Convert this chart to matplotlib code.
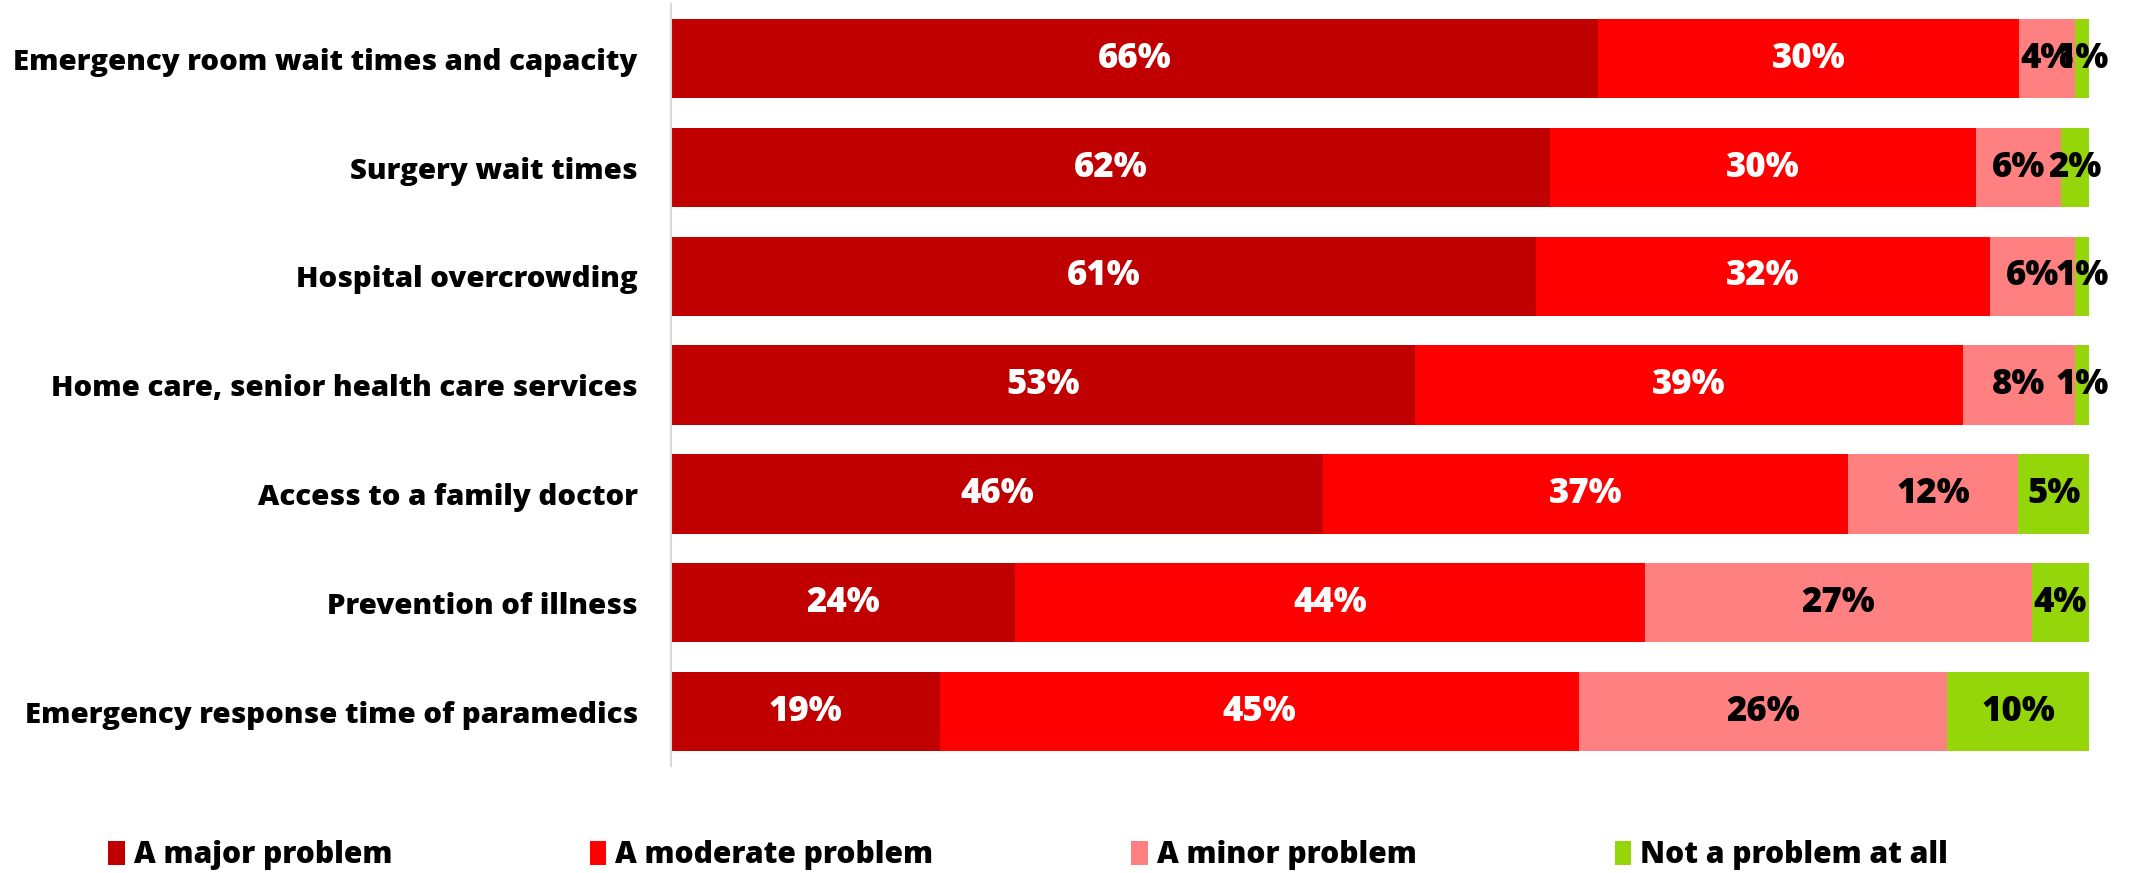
import matplotlib.pyplot as plt
import numpy as np
from matplotlib.patches import Patch

# Datos (de arriba hacia abajo)
categories = [
    'Emergency room wait times and capacity',
    'Surgery wait times',
    'Hospital overcrowding',
    'Home care, senior health care services',
    'Access to a family doctor',
    'Prevention of illness',
    'Emergency response time of paramedics',
]
major = [66, 62, 61, 53, 46, 24, 19]
moderate = [30, 30, 32, 39, 37, 44, 45]
minor = [4, 6, 6, 8, 12, 27, 26]
not_problem = [1, 2, 1, 1, 5, 4, 10]

series_names = ['A major problem', 'A moderate problem', 'A minor problem', 'Not a problem at all']
colors = ['#C00000', '#FF0000', '#FF8080', '#94D60A']
text_colors = ['white', 'white', 'black', 'black']

plt.rcParams['font.family'] = ['Open Sans', 'DejaVu Sans']
plt.rcParams['font.weight'] = 'heavy'

fig, ax = plt.subplots(figsize=(21.33, 8.73), dpi=100)
fig.subplots_adjust(left=0.3146, right=0.9794, top=0.995, bottom=0.1226)

data = np.array([major, moderate, minor, not_problem], dtype=float)
totals = data.sum(axis=0)
shares = data / totals * 100  # las barras llegan todas al mismo ancho
y = np.arange(len(categories))

left = np.zeros(len(categories))
for i in range(4):
    ax.barh(y, shares[i], left=left, height=0.73, color=colors[i], label=series_names[i])
    for j in range(len(categories)):
        ax.text(left[j] + shares[i][j] / 2, y[j], f'{int(data[i][j])}%',
                ha='center', va='center', color=text_colors[i],
                fontsize=25, fontweight='heavy')
    left += shares[i]

ax.set_yticks(y)
ax.set_yticklabels(categories, fontsize=21.2, fontweight='heavy')
ax.set_ylim(len(categories) - 0.5, -0.5)
ax.set_xlim(0, 100)
ax.set_xticks([])
ax.tick_params(axis='y', length=0, pad=24)
for s in ['top', 'right', 'bottom']:
    ax.spines[s].set_visible(False)
ax.spines['left'].set_color('#D9D9D9')
ax.spines['left'].set_linewidth(1.5)

handles = [Patch(facecolor=c) for c in colors]
fig.legend(handles, series_names, loc='lower left', bbox_to_anchor=(0.038, -0.028),
           ncol=4, frameon=False, handlelength=0.55, handleheight=0.85,
           handletextpad=0.3, columnspacing=6.6, prop={'weight': 'heavy', 'size': 21.6})

plt.savefig('out.png', dpi=100)
